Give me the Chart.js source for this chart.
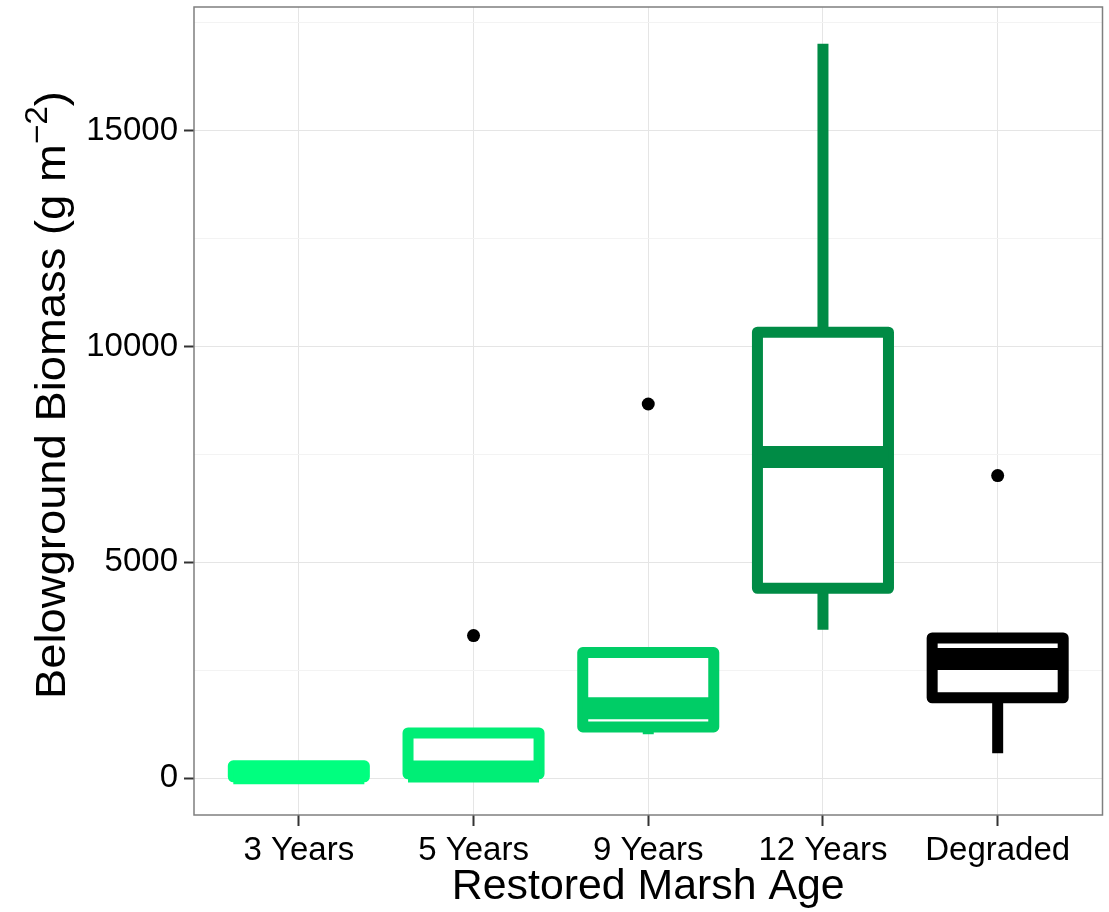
<!DOCTYPE html>
<html>
<head>
<meta charset="utf-8">
<script src="https://cdn.jsdelivr.net/npm/chart.js@4.4.1/dist/chart.umd.min.js"></script>
<style>
  html, body { margin: 0; padding: 0; background: #ffffff; }
  #wrap { width: 1109px; height: 912px; }
</style>
</head>
<body>
<div id="wrap"><canvas id="chart" width="1109" height="912"></canvas></div>
<script>
// Belowground biomass by restored marsh age (box plot summaries)
const categories = ['3 Years', '5 Years', '9 Years', '12 Years', 'Degraded'];
const lowerWhisker = [0, 100, 1020, 3440, 580];
const lowerQuartile = [35, 105, 1190, 4400, 1865];
const medians = [115, 160, 1620, 7440, 2760];
const upperQuartile = [290, 1050, 2910, 10330, 3250];
const upperWhisker = [300, 1050, 2910, 17010, 3250];

// outlying observations: category index and value
const outlierGroup = [1, 2, 4];
const outlierValue = [3305, 8667, 7010];

const boxColors = ['#00FF7F', '#00EE76', '#00CD66', '#008B45', '#000000'];

const yMajorTicks = [0, 5000, 10000, 15000];
const yMinorTicks = [2500, 7500, 12500, 17500];

const BOX_HALF = 0.375;      // half box width in category units
const BOX_LINE = 11;         // box / whisker stroke
const MEDIAN_LINE = 22;      // median stroke (fattened)

const boxPlotPlugin = {
  id: 'boxPlot',
  beforeDatasetsDraw(chart) {
    const { ctx, scales: { x, y } } = chart;
    ctx.save();
    categories.forEach((cat, i) => {
      const col = boxColors[i];
      const cx = x.getPixelForValue(i);
      const left = x.getPixelForValue(i - BOX_HALF);
      const right = x.getPixelForValue(i + BOX_HALF);
      const yLow = y.getPixelForValue(lowerWhisker[i]);
      const yQ1 = y.getPixelForValue(lowerQuartile[i]);
      const yMed = y.getPixelForValue(medians[i]);
      const yQ3 = y.getPixelForValue(upperQuartile[i]);
      const yHigh = y.getPixelForValue(upperWhisker[i]);

      ctx.strokeStyle = col;
      ctx.lineCap = 'butt';
      // whiskers
      ctx.lineWidth = BOX_LINE;
      ctx.beginPath();
      ctx.moveTo(cx, yHigh); ctx.lineTo(cx, yQ3);
      ctx.moveTo(cx, yQ1); ctx.lineTo(cx, yLow);
      ctx.stroke();
      // box
      ctx.lineJoin = 'round';
      ctx.fillStyle = '#ffffff';
      ctx.beginPath();
      ctx.rect(left, yQ3, right - left, yQ1 - yQ3);
      ctx.fill();
      ctx.stroke();
      // median
      ctx.lineWidth = MEDIAN_LINE;
      ctx.beginPath();
      ctx.moveTo(left, yMed); ctx.lineTo(right, yMed);
      ctx.stroke();
    });
    ctx.restore();
  },
  afterDatasetsDraw(chart) {
    const { ctx, chartArea: a } = chart;
    ctx.save();
    ctx.strokeStyle = '#7F7F7F';
    ctx.lineWidth = 1.5;
    ctx.strokeRect(a.left, a.top, a.right - a.left, a.bottom - a.top);
    ctx.restore();
  },
  afterDraw(chart) {
    const { ctx, chartArea: a } = chart;
    ctx.save();
    ctx.fillStyle = '#000000';
    // x axis title
    ctx.font = '42px "Liberation Sans", Arial, sans-serif';
    ctx.textAlign = 'center';
    ctx.textBaseline = 'alphabetic';
    ctx.save();
    ctx.translate((a.left + a.right) / 2, 899);
    ctx.scale(1.02, 1);
    ctx.fillText('Restored Marsh Age', 0, 0);
    ctx.restore();

    // y axis title with superscript unit
    const main = 'Belowground Biomass (g m';
    const sup = '\u22122';
    const close = ')';
    const bigFont = '42px "Liberation Sans", Arial, sans-serif';
    const supFont = '31px "Liberation Sans", Arial, sans-serif';
    ctx.font = bigFont;
    const w1 = ctx.measureText(main).width;
    const w3 = ctx.measureText(close).width;
    ctx.font = supFont;
    const w2 = ctx.measureText(sup).width;
    const total = w1 + w2 + w3;
    ctx.translate(65, 395);
    ctx.rotate(-Math.PI / 2);
    ctx.scale(1.08, 1);
    ctx.textAlign = 'left';
    let pos = -total / 2;
    ctx.font = bigFont;
    ctx.fillText(main, pos, 0);
    pos += w1;
    ctx.font = supFont;
    ctx.fillText(sup, pos, -18);
    pos += w2;
    ctx.font = bigFont;
    ctx.fillText(close, pos, 0);
    ctx.restore();
  }
};

const outlierPoints = outlierGroup.map((g, k) => ({ x: g, y: outlierValue[k] }));

function noScalePadding(s) {
  s.paddingTop = 0;
  s.paddingBottom = 0;
  s.paddingLeft = 0;
  s.paddingRight = 0;
}

new Chart(document.getElementById('chart'), {
  type: 'scatter',
  data: {
    datasets: [{
      label: 'Outliers',
      data: outlierPoints,
      pointRadius: 6.5,
      pointHoverRadius: 6.5,
      backgroundColor: '#000000',
      borderWidth: 0
    }]
  },
  options: {
    responsive: false,
    animation: false,
    devicePixelRatio: 1,
    layout: { padding: { left: 0, top: 7, right: 5, bottom: 0 } },
    plugins: { legend: { display: false }, tooltip: { enabled: false } },
    scales: {
      x: {
        type: 'linear',
        min: -0.6,
        max: 4.6,
        afterBuildTicks: (s) => { s.ticks = categories.map((c, i) => ({ value: i })); },
        afterFit: (s) => { s.height = 97; noScalePadding(s); },
        border: { display: false },
        grid: {
          color: '#E5E5E5',
          lineWidth: 1,
          drawTicks: true,
          tickLength: 11,
          tickColor: '#333333',
          tickWidth: 2
        },
        ticks: {
          autoSkip: false,
          maxRotation: 0,
          padding: 5,
          color: '#000000',
          font: { family: '"Liberation Sans", Arial, sans-serif', size: 33 },
          callback: (v) => categories[Math.round(v)]
        }
      },
      y: {
        type: 'linear',
        min: -850,
        max: 17860,
        afterBuildTicks: (s) => {
          s.ticks = yMajorTicks.concat(yMinorTicks).sort((p, q) => p - q).map(v => ({ value: v }));
        },
        afterFit: (s) => { s.width = 194; noScalePadding(s); },
        border: { display: false },
        grid: {
          color: (c) => (c.tick && yMajorTicks.includes(c.tick.value)) ? '#E5E5E5' : '#F3F3F3',
          lineWidth: 1,
          drawTicks: true,
          tickLength: 10,
          tickColor: (c) => (c.tick && yMajorTicks.includes(c.tick.value)) ? '#333333' : 'rgba(0,0,0,0)',
          tickWidth: 2
        },
        ticks: {
          autoSkip: false,
          padding: 6,
          color: '#000000',
          font: { family: '"Liberation Sans", Arial, sans-serif', size: 33 },
          callback: (v) => yMajorTicks.includes(v) ? String(v) : ''
        }
      }
    }
  },
  plugins: [boxPlotPlugin]
});
</script>
</body>
</html>
